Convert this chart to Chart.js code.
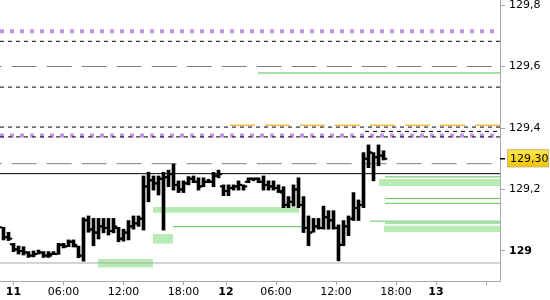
<!DOCTYPE html>
<html>
<head>
<meta charset="utf-8">
<script src="https://cdn.jsdelivr.net/npm/chart.js@4/dist/chart.umd.min.js"></script>
<style>
  html, body { margin: 0; padding: 0; background: #fff; }
  canvas { display: block; }
</style>
</head>
<body>
<canvas id="chart" width="550" height="300"></canvas>
<script>
// half-hour bars, 11th to 12th
const barOpen  = [129.077, 129.045, 129.022, 129.005, 129.000, 128.995, 128.985, 128.990, 128.995, 128.985,
                  128.990, 128.990, 129.020, 129.015, 129.030, 129.015, 128.985, 129.100, 129.070, 129.060,
                  129.080, 129.075, 129.065, 129.075, 129.040, 129.060, 129.080, 129.090, 129.105, 129.210,
                  129.230, 129.220, 129.235, 129.240, 129.250, 129.215, 129.200, 129.220, 129.235, 129.225,
                  129.210, 129.225, 129.225, 129.245, 129.210, 129.195, 129.205, 129.210, 129.215, 129.225,
                  129.235, 129.235, 129.225, 129.215, 129.210, 129.205, 129.190, 129.150, 129.160, 129.200,
                  129.150, 129.075, 129.060, 129.080, 129.075, 129.110, 129.100, 129.075, 129.020, 129.080,
                  129.105, 129.140, 129.150, 129.300, 129.320, 129.305, 129.310];
const barHigh  = [129.077, 129.061, 129.025, 129.016, 129.014, 128.998, 129.000, 129.003, 128.998, 128.998,
                  128.998, 129.025, 129.025, 129.036, 129.036, 129.016, 129.108, 129.114, 129.106, 129.106,
                  129.106, 129.106, 129.106, 129.077, 129.071, 129.099, 129.114, 129.114, 129.244, 129.256,
                  129.244, 129.244, 129.256, 129.263, 129.283, 129.228, 129.228, 129.242, 129.244, 129.238,
                  129.238, 129.233, 129.256, 129.263, 129.215, 129.215, 129.215, 129.228, 129.215, 129.238,
                  129.238, 129.238, 129.244, 129.228, 129.228, 129.215, 129.209, 129.177, 129.215, 129.238,
                  129.177, 129.114, 129.106, 129.106, 129.146, 129.131, 129.131, 129.085, 129.099, 129.114,
                  129.190, 129.166, 129.320, 129.345, 129.320, 129.345, 129.326];
const barLow   = [129.036, 129.034, 128.998, 128.990, 128.987, 128.979, 128.981, 128.990, 128.979, 128.979,
                  128.988, 128.989, 129.010, 129.014, 129.013, 128.978, 128.967, 129.061, 129.017, 129.039,
                  129.059, 129.052, 129.059, 129.030, 129.032, 129.036, 129.071, 129.080, 129.068, 129.160,
                  129.198, 129.182, 129.068, 129.209, 129.198, 129.190, 129.190, 129.215, 129.222, 129.198,
                  129.209, 129.222, 129.209, 129.238, 129.180, 129.180, 129.198, 129.198, 129.198, 129.222,
                  129.228, 129.222, 129.198, 129.198, 129.198, 129.190, 129.141, 129.141, 129.146, 129.141,
                  129.060, 129.017, 129.061, 129.071, 129.071, 129.071, 129.071, 128.968, 129.017, 129.050,
                  129.099, 129.099, 129.141, 129.271, 129.228, 129.277, 129.296];
const barClose = [129.045, 129.040, 129.005, 129.000, 128.995, 128.985, 128.990, 128.995, 128.985, 128.985,
                  128.990, 129.020, 129.015, 129.030, 129.020, 128.985, 129.100, 129.070, 129.060, 129.080,
                  129.075, 129.065, 129.080, 129.040, 129.060, 129.080, 129.090, 129.105, 129.210, 129.230,
                  129.220, 129.235, 129.240, 129.250, 129.215, 129.200, 129.220, 129.235, 129.225, 129.210,
                  129.225, 129.225, 129.245, 129.250, 129.195, 129.205, 129.210, 129.215, 129.210, 129.235,
                  129.235, 129.225, 129.215, 129.210, 129.205, 129.195, 129.150, 129.160, 129.200, 129.150,
                  129.075, 129.060, 129.080, 129.075, 129.110, 129.100, 129.075, 129.020, 129.080, 129.105,
                  129.140, 129.150, 129.300, 129.320, 129.305, 129.310, 129.300];

// time axis (bar index units)
const xMin = -0.7, xMax = 99.3;
const tickPositions = [2, 12, 24, 36, 44.5, 54.5, 66.5, 78.5, 86.5, 96.6];
const tickLabels = ['11', '06:00', '12:00', '18:00', '12', '06:00', '12:00', '18:00', '13', ''];

// price axis
const yMin = 128.9024, yMax = 129.8163;
const yTickValues = [129, 129.2, 129.4, 129.6, 129.8];
const lastPrice = 129.30;

// levels
const blackDashLevels = [129.682, 129.533, 129.403, 129.389, 129.371];
const blackDashFrom   = [xMin, xMin, xMin, 72.3, xMin];
const purpleDotLevels = [129.715, 129.376];
const purpleDotTo     = 98.3;
const grayDashLevels  = [129.600, 129.284];
const orangeDashLevels = [129.409];
const orangeDashFrom   = [45.3];
const greenLevels = [129.579, 129.241, 129.171, 129.155, 129.097, 129.091, 129.079];
const greenFrom   = [50.9, 76.3, 76.3, 76.3, 73.3, 76.3, 33.9];
const greenTo     = [xMax, xMax, xMax, xMax, xMax, xMax, 60.0];
const pivotLevel = 129.2515;
const floorLevel = 128.961;

// zones
const zoneTop    = [129.234, 129.082, 129.143, 129.055, 128.974];
const zoneBottom = [129.211, 129.062, 129.124, 129.024, 128.946];
const zoneFrom   = [75.1, 76.1, 29.9, 29.9, 18.9];
const zoneTo     = [xMax, xMax, 59.1, 33.9, 29.9];

const FONT = 'DejaVu Sans';

function level(y, from, to, style) {
  return Object.assign({
    type: 'line',
    data: [{x: from, y: y}, {x: to, y: y}],
    pointRadius: 0,
    borderWidth: 1,
    fill: false,
    order: 2
  }, style);
}

const datasets = [];

// bars (high-low) on top
datasets.push({
  type: 'bar',
  data: barHigh.map((h, i) => ({x: i, y: [barLow[i], h]})),
  backgroundColor: '#000',
  barThickness: 3,
  minBarLength: 2,
  order: 0
});
// open / close ticks
datasets.push({
  type: 'line',
  data: barOpen.map((v, i) => ({x: i - 0.5, y: v})),
  showLine: false,
  pointStyle: 'line',
  pointRadius: 1.2,
  pointBorderWidth: 2,
  pointBorderColor: '#000',
  order: 1
});
datasets.push({
  type: 'line',
  data: barClose.map((v, i) => ({x: i + 0.5, y: v})),
  showLine: false,
  pointStyle: 'line',
  pointRadius: 1.2,
  pointBorderWidth: 2,
  pointBorderColor: '#000',
  order: 1
});

zoneTop.forEach((t, i) => {
  datasets.push({
    type: 'line',
    data: [{x: zoneFrom[i], y: t}, {x: zoneTo[i], y: t}],
    pointRadius: 0,
    borderWidth: 0,
    borderColor: 'transparent',
    backgroundColor: '#b6ecb4',
    fill: {value: zoneBottom[i]},
    order: 3
  });
});

blackDashLevels.forEach((v, i) => datasets.push(level(v, blackDashFrom[i], xMax,
  {borderColor: '#000', borderDash: [4, 4]})));
purpleDotLevels.forEach(v => datasets.push(level(v, xMin, purpleDotTo,
  {borderColor: '#c792e4', borderWidth: 4, borderDash: [4, 6]})));
grayDashLevels.forEach(v => datasets.push(level(v, xMin, xMax,
  {borderColor: '#808080', borderDash: [25, 10], borderDashOffset: 23.3})));
orangeDashLevels.forEach((v, i) => datasets.push(level(v, orangeDashFrom[i], xMax,
  {borderColor: '#f5b847', borderWidth: 1.5, borderDash: [25, 10]})));
greenLevels.forEach((v, i) => datasets.push(level(v, greenFrom[i], greenTo[i],
  {borderColor: i === 4 ? '#6cbf6c' : '#55c455'})));
datasets.push(level(pivotLevel, xMin, xMax, {borderColor: '#000'}));
datasets.push(level(floorLevel, xMin, xMax, {borderColor: '#a8a8a8'}));

const priceTag = {
  id: 'priceTag',
  afterDraw(chart) {
    const ctx = chart.ctx;
    const y = chart.scales.y.getPixelForValue(lastPrice);
    const x0 = chart.chartArea.right;
    ctx.save();
    ctx.strokeStyle = '#000';
    ctx.lineWidth = 1.5;
    ctx.beginPath();
    ctx.moveTo(x0, y);
    ctx.lineTo(x0 + 5, y);
    ctx.stroke();
    const g = ctx.createLinearGradient(0, y - 9, 0, y + 9);
    g.addColorStop(0, '#ffea4a');
    g.addColorStop(1, '#f3c300');
    ctx.fillStyle = g;
    ctx.fillRect(x0 + 7, y - 9.5, 42, 18);
    ctx.strokeStyle = '#c9b77a';
    ctx.lineWidth = 1;
    ctx.strokeRect(x0 + 7.5, y - 9, 41, 17);
    ctx.fillStyle = '#000';
    ctx.font = '11px "' + FONT + '"';
    ctx.textBaseline = 'middle';
    ctx.textAlign = 'left';
    ctx.fillText(lastPrice.toFixed(2).replace('.', ','), x0 + 10, y + 0.5);
    ctx.restore();
  }
};

new Chart(document.getElementById('chart'), {
  type: 'bar',
  data: {datasets: datasets},
  plugins: [priceTag],
  options: {
    responsive: false,
    animation: false,
    events: [],
    layout: {padding: 0, autoPadding: false},
    plugins: {legend: {display: false}, tooltip: {enabled: false}},
    scales: {
      x: {
        type: 'linear',
        min: xMin,
        max: xMax,
        offset: false,
        grid: {drawOnChartArea: false, drawTicks: true, tickLength: 4, color: '#a8a8a8', offset: false},
        border: {color: '#a8a8a8'},
        afterBuildTicks: s => { s.ticks = tickPositions.map(v => ({value: v})); },
        afterFit: s => { s.height = 19; s.paddingLeft = 0; s.paddingRight = 0; },
        ticks: {
          autoSkip: false,
          maxRotation: 0,
          padding: 1,
          color: '#000',
          font: c => ({family: FONT, size: 11,
            weight: (tickLabels[c.index] || '').indexOf(':') < 0 ? 'bold' : 'normal'}),
          callback: (v, i) => tickLabels[i]
        }
      },
      y: {
        type: 'linear',
        position: 'right',
        min: yMin,
        max: yMax,
        grid: {drawOnChartArea: false, drawTicks: true, tickLength: 5, color: '#a8a8a8'},
        border: {color: '#a8a8a8'},
        afterBuildTicks: s => { s.ticks = yTickValues.map(v => ({value: v})); },
        afterFit: s => { s.width = 50; s.paddingTop = 0; s.paddingBottom = 0; },
        ticks: {
          padding: 4,
          color: '#000',
          font: c => ({family: FONT, size: 11,
            weight: c.tick && Math.abs(c.tick.value - Math.round(c.tick.value)) < 1e-6 ? 'bold' : 'normal'}),
          callback: v => String(Number(v.toFixed(1))).replace('.', ',')
        }
      }
    }
  }
});
</script>
</body>
</html>
